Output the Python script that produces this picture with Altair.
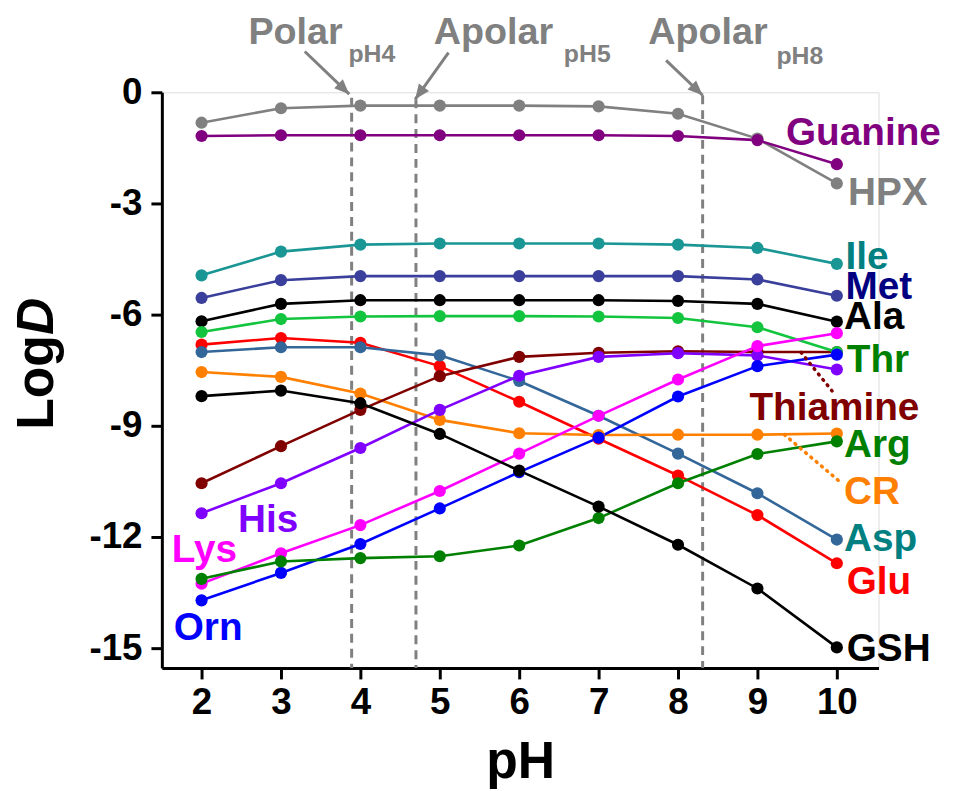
import altair as alt
import pandas as pd

FONT = "Liberation Sans, Arial, sans-serif"

# ---------------- data ----------------
ph = [2, 3, 4, 5, 6, 7, 8, 9, 10]

hpx      = [-0.82, -0.43, -0.36, -0.36, -0.36, -0.38, -0.58, -1.25, -2.46]
guanine  = [-1.18, -1.16, -1.16, -1.16, -1.16, -1.16, -1.18, -1.29, -1.94]
ile      = [-4.94, -4.30, -4.11, -4.08, -4.08, -4.08, -4.11, -4.20, -4.63]
met      = [-5.55, -5.07, -4.96, -4.96, -4.96, -4.96, -4.96, -5.05, -5.49]
ala      = [-6.18, -5.71, -5.61, -5.61, -5.61, -5.61, -5.63, -5.71, -6.19]
glu      = [-6.81, -6.63, -6.76, -7.39, -8.35, -9.35, -10.34, -11.41, -12.71]
asp      = [-7.01, -6.88, -6.88, -7.10, -7.79, -8.73, -9.75, -10.82, -12.07]
cr       = [-7.55, -7.68, -8.13, -8.84, -9.20, -9.25, -9.24, -9.24, -9.21]
thiamine = [-10.55, -9.55, -8.57, -7.66, -7.14, -7.03, -6.99, -7.01, -7.01]
thr      = [-6.47, -6.12, -6.05, -6.04, -6.04, -6.05, -6.09, -6.34, -7.01]
his      = [-11.36, -10.55, -9.60, -8.57, -7.65, -7.14, -7.04, -7.10, -7.48]
lys      = [-13.26, -12.44, -11.68, -10.76, -9.75, -8.73, -7.75, -6.85, -6.50]
orn      = [-13.71, -12.97, -12.19, -11.23, -10.25, -9.32, -8.21, -7.39, -7.08]
arg      = [-13.13, -12.66, -12.57, -12.52, -12.23, -11.49, -10.55, -9.76, -9.42]
gsh      = [-8.20, -8.05, -8.39, -9.22, -10.21, -11.18, -12.21, -13.39, -14.98]

series_names = ["HPX", "Guanine", "Ile", "Met", "Ala", "Glu", "Asp", "CR",
                "Thiamine", "Thr", "His", "Lys", "Orn", "Arg", "GSH"]
series_values = [hpx, guanine, ile, met, ala, glu, asp, cr,
                 thiamine, thr, his, lys, orn, arg, gsh]
line_colors = ["#808080", "#800080", "#1A9695", "#3A3F9B", "#000000", "#FF0000",
               "#336699", "#FF8000", "#800000", "#13C53E", "#8000FF", "#FF00FF",
               "#0000FF", "#008000", "#000000"]

# series labels
label_text  = ["Guanine", "HPX", "Ile", "Met", "Ala", "Thr", "Thiamine", "Arg",
               "CR", "Asp", "Glu", "GSH", "His", "Lys", "Orn"]
label_x     = [9.36, 10.14, 10.11, 10.11, 10.09, 10.125, 8.90, 10.09,
               10.09, 10.09, 10.125, 10.125, 2.46, 1.625, 1.65]
label_y     = [-1.42, -3.03, -4.77, -5.57, -6.38, -7.55, -8.84, -9.83,
               -11.12, -12.38, -13.55, -15.35, -11.87, -12.67, -14.79]
label_color = ["#800080", "#808080", "#008080", "#000080", "#000000", "#008000",
               "#800000", "#008000", "#FF8000", "#008080", "#FF0000", "#000000",
               "#8000FF", "#FF00FF", "#0000FF"]

# dotted leader lines (Thiamine, CR)
lead_x1 = [9.55, 9.34]
lead_y1 = [-7.02, -9.24]
lead_x2 = [9.94, 10.05]
lead_y2 = [-8.06, -10.53]
lead_color = ["#800000", "#FF8000"]

# vertical dashed markers
mark_ph  = [3.89, 4.70, 8.31]
mark_top = [-0.15, -0.19, -0.08]

# header annotations
head_text = ["Polar", "Apolar", "Apolar"]
head_x    = [2.59, 4.925, 7.625]
head_y    = [1.30, 1.30, 1.30]
sub_text  = ["pH4", "pH5", "pH8"]
sub_x     = [3.85, 6.5625, 9.24]
sub_y     = [0.82, 0.82, 0.76]

# arrows: start -> tip
arrow_x1 = [3.30, 5.11, 7.85]
arrow_y1 = [1.10, 1.07, 0.86]
arrow_x2 = [3.86, 4.69, 8.31]
arrow_y2 = [-0.05, -0.19, -0.08]
arrow_angle = [133.7, 216.0, 133.4]

# y title pieces
ytitle_text  = ["Log", "D"]
ytitle_x     = [0.125, 0.125]
ytitle_y     = [-9.11, -6.55]
ytitle_style = ["normal", "italic"]

X_DOMAIN = [1.5, 10.525]
Y_DOMAIN = [-15.536, 0]

# ---------------- build tables ----------------
rows = []
for name, vals in zip(series_names, series_values):
    for p, v in zip(ph, vals):
        rows.append({"series": name, "x": p, "y": v})
df = pd.DataFrame(rows)

labels_df = pd.DataFrame({"text": label_text, "x": label_x, "y": label_y, "color": label_color})
lead_df = pd.DataFrame({"x": lead_x1, "y": lead_y1, "x2": lead_x2, "y2": lead_y2, "color": lead_color})
marks_df = pd.DataFrame({"x": mark_ph, "y": mark_top, "y2": [Y_DOMAIN[0]] * len(mark_ph)})
head_df = pd.DataFrame({"text": head_text, "x": head_x, "y": head_y})
sub_df = pd.DataFrame({"text": sub_text, "x": sub_x, "y": sub_y})
arrow_df = pd.DataFrame({"x": arrow_x1, "y": arrow_y1, "x2": arrow_x2, "y2": arrow_y2, "angle": arrow_angle})
ytitle_df = pd.DataFrame({"text": ytitle_text, "x": ytitle_x, "y": ytitle_y, "style": ytitle_style})

xscale = alt.Scale(domain=X_DOMAIN, nice=False, zero=False)
yscale = alt.Scale(domain=Y_DOMAIN, nice=False, zero=False)

xaxis = alt.Axis(values=ph, title="pH", grid=False,
                 labelFont=FONT, labelFontSize=37, labelFontWeight="bold", labelColor="black",
                 labelPadding=6, labelFlush=False, labelOverlap=False,
                 domainColor="black", domainWidth=3, tickColor="black", tickWidth=3, tickSize=11,
                 titleFont=FONT, titleFontSize=52, titleFontWeight="bold", titleColor="black",
                 titlePadding=16)
yaxis = alt.Axis(values=[0, -3, -6, -9, -12, -15], title=None, grid=False,
                 labelExpr="'' + datum.value",
                 labelFont=FONT, labelFontSize=37, labelFontWeight="bold", labelColor="black",
                 labelPadding=9, labelFlush=False, labelOverlap=False,
                 domainColor="black", domainWidth=3, tickColor="black", tickWidth=3, tickSize=11)


def X(f="x"):
    return alt.X(f"{f}:Q", scale=xscale, axis=xaxis)


def Y(f="y"):
    return alt.Y(f"{f}:Q", scale=yscale, axis=yaxis)


color_enc = alt.Color("series:N", scale=alt.Scale(domain=series_names, range=line_colors), legend=None)

dashed = alt.Chart(marks_df).mark_rule(color="#808080", strokeWidth=3, strokeDash=[9, 6]).encode(
    x=X(), y=Y(), y2="y2:Q")

shafts = alt.Chart(arrow_df).mark_rule(color="#808080", strokeWidth=3).encode(
    x=X(), y=Y(), x2="x2:Q", y2="y2:Q")

heads = alt.Chart(arrow_df).mark_point(
    shape="M0,0L-0.42,1L0.42,1Z", filled=True, fill="#808080", strokeWidth=0,
    size=900, opacity=1).encode(
    x=X("x2"), y=Y("y2"), angle=alt.Angle("angle:Q", scale=None))

lines = alt.Chart(df).mark_line(strokeWidth=2.6).encode(
    x=X(), y=Y(), color=color_enc, detail="series:N")

points = alt.Chart(df).mark_circle(size=150, opacity=1).encode(
    x=X(), y=Y(), color=color_enc)

leaders = alt.Chart(lead_df).mark_rule(strokeWidth=3.5, strokeDash=[1, 6], strokeCap="round").encode(
    x=X(), y=Y(), x2="x2:Q", y2="y2:Q", color=alt.Color("color:N", scale=None))

labels = alt.Chart(labels_df).mark_text(
    font=FONT, fontSize=39, fontWeight="bold", align="left", baseline="alphabetic").encode(
    x=X(), y=Y(), text="text:N", color=alt.Color("color:N", scale=None))

heads_text = alt.Chart(head_df).mark_text(
    font=FONT, fontSize=38, fontWeight="bold", align="left", baseline="alphabetic", color="#808080").encode(
    x=X(), y=Y(), text="text:N")

subs_text = alt.Chart(sub_df).mark_text(
    font=FONT, fontSize=25, fontWeight="bold", align="left", baseline="alphabetic", color="#808080").encode(
    x=X(), y=Y(), text="text:N")

ytitle_log = alt.Chart(ytitle_df[ytitle_df["style"] == "normal"]).mark_text(
    font=FONT, fontSize=52, fontWeight="bold", align="left", baseline="alphabetic",
    angle=270, color="black").encode(x=X(), y=Y(), text="text:N")

ytitle_d = alt.Chart(ytitle_df[ytitle_df["style"] == "italic"]).mark_text(
    font=FONT, fontSize=52, fontWeight="bold", fontStyle="italic", align="left", baseline="alphabetic",
    angle=270, color="black").encode(x=X(), y=Y(), text="text:N")

chart = alt.layer(
    dashed, shafts, heads, lines, points, leaders, labels, heads_text, subs_text, ytitle_log, ytitle_d
).properties(
    width=722, height=580,
    padding={"left": 155, "top": 82, "right": 70, "bottom": 121},
    autosize=alt.AutoSizeParams(type="none"),
).configure_view(stroke=None).configure(background="white")

chart.save("out.html", embed_options={"renderer": "svg", "actions": False})
